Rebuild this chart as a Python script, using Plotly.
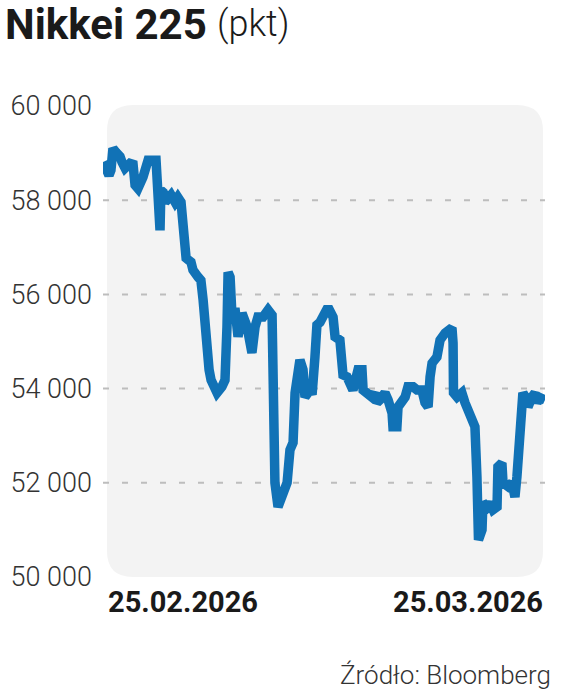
import plotly.graph_objects as go

# Trading-day offset since 25.02.2026 (intraday observations) and index level (pkt)
t_days = [0.00, 0.14, 0.27, 0.36, 0.45, 0.59, 0.77, 0.86, 1.00, 1.22, 1.36, 1.45, 1.58, 1.81, 1.95, 2.04,
          2.40, 2.44, 2.49, 2.58, 2.62, 2.72, 2.81, 2.94, 3.08, 3.26, 3.39, 3.53, 3.62, 3.71, 3.76, 3.98,
          4.07, 4.30, 4.43, 4.53, 4.62, 4.71, 4.80, 4.89, 4.98, 5.16, 5.38, 5.52, 5.61, 5.66, 5.75, 5.84,
          5.97, 6.11, 6.29, 6.52, 6.74, 6.88, 7.01, 7.24, 7.47, 7.65, 7.67, 7.69, 7.78, 7.92, 8.15, 8.33,
          8.46, 8.60, 8.69, 8.78, 8.91, 9.05, 9.14, 9.37, 9.46, 9.59, 9.68, 9.82, 10.05, 10.18, 10.41, 10.50,
          10.72, 10.81, 10.86, 11.04, 11.18, 11.31, 11.54, 11.72, 11.77, 11.99, 12.17, 12.31, 12.40, 12.53,
          12.76, 12.90, 13.08, 13.12, 13.30, 13.35, 13.53, 13.67, 13.80, 14.03, 14.21, 14.43, 14.57, 14.71,
          14.80, 14.89, 15.11, 15.25, 15.48, 15.79, 15.84, 15.86, 16.02, 16.24, 16.38, 16.52, 16.70, 16.83,
          16.92, 16.97, 16.99, 17.15, 17.19, 17.38, 17.51, 17.65, 17.83, 17.87, 18.05, 18.10, 18.33, 18.51,
          18.64, 18.73, 18.87, 18.96, 19.00, 19.19, 19.23, 19.41, 19.55, 19.64, 19.77, 20.00]

nikkei = [58810, 58640, 58530, 58640, 59100, 59020, 58930, 58810, 58680, 58780, 58760, 58320, 58250, 58490, 58780, 58850,
          58850, 58420, 57360, 57360, 58210, 58170, 57960, 58060, 58110, 57960, 58060, 57960, 57640, 57150, 56770, 56690,
          56520, 56370, 56300, 55880, 55240, 54820, 54400, 54180, 54040, 53910, 54040, 54180, 55310, 56470, 56370, 55520,
          55710, 55100, 55600, 55310, 54760, 55310, 55520, 55520, 55670, 55560, 54460, 52700, 52000, 51490, 51790, 52000,
          52700, 52850, 53910, 54460, 54610, 54400, 53820, 53970, 53870, 54670, 55350, 55410, 55600, 55730, 55520, 55100,
          55030, 54540, 54290, 54250, 54120, 53970, 54400, 54400, 53970, 53910, 53820, 53910, 53700, 53760,
          53910, 53760, 53480, 53190, 53190, 53610, 53720, 53820, 54040, 54040, 53970, 53970, 53700, 53610,
          54250, 54540, 54670, 55030, 55180, 55290, 54970, 53910, 53820, 53910, 53700, 53550, 53340, 53190,
          52130, 51430, 50790, 51000, 51580, 51490, 51580, 51430, 51490, 52340, 52420, 52000, 51920, 52000,
          51700, 52130, 52980, 53760, 53910, 53760, 53610, 53820, 53910, 53700, 53810, 53760]

y_ticks = [50000, 52000, 54000, 56000, 58000, 60000]
y_ticktext = ["50 000", "52 000", "54 000", "56 000", "58 000", "60 000"]
x_labels = ["25.02.2026", "25.03.2026"]

LINE_COLOR = "#1172B6"
FONT = "Roboto, sans-serif"

fig = go.Figure()
fig.add_trace(go.Scatter(x=t_days, y=nikkei, mode="lines",
                         line=dict(color=LINE_COLOR, width=9.5), hoverinfo="skip"))

W, H = 564, 694
L, R, T, B = 103, 19, 106, 117
pw, ph = W - L - R, H - T - B

# rounded grey panel in paper coords
x0, x1 = (107 - L) / pw, (543 - L) / pw
y0, y1 = 0.0, (H - B - 105) / ph
rx, ry = 26 / pw, 26 / ph
path = (f"M {x0+rx},{y1} L {x1-rx},{y1} Q {x1},{y1} {x1},{y1-ry} L {x1},{y0+ry} "
        f"Q {x1},{y0} {x1-rx},{y0} L {x0+rx},{y0} Q {x0},{y0} {x0},{y0+ry} "
        f"L {x0},{y1-ry} Q {x0},{y1} {x0+rx},{y1} Z")
shapes = [dict(type="path", path=path, xref="paper", yref="paper",
               fillcolor="#F3F3F3", line=dict(width=0), layer="below")]
for v in y_ticks[1:-1]:
    shapes.append(dict(type="line", xref="paper", yref="y", x0=0, x1=1.0, y0=v, y1=v,
                       line=dict(color="#BDBDBD", width=2, dash="6px,13px"), layer="below"))

annotations = [
    dict(text=x_labels[0], xref="paper", yref="paper", x=(106 - L) / pw, y=0, xanchor="left",
         yanchor="middle", yshift=-25, showarrow=False,
         font=dict(family=FONT, size=29, color="#1a1a1a", weight="bold")),
    dict(text=x_labels[1], xref="paper", yref="paper", x=(545 - L) / pw, y=0, xanchor="right",
         yanchor="middle", yshift=-25, showarrow=False,
         font=dict(family=FONT, size=29, color="#1a1a1a", weight="bold")),
    dict(text="Źródło: Bloomberg", xref="paper", yref="paper", x=(553 - L) / pw, y=-(675 - (H - B)) / ph,
         xanchor="right", yanchor="middle", showarrow=False,
         font=dict(family=FONT, size=26, color="#333333", weight=300)),
    dict(text="Nikkei 225", xref="paper", yref="paper", x=-(L - 3) / pw, y=1 + (T - 24) / ph,
         xanchor="left", yanchor="middle", showarrow=False,
         font=dict(family=FONT, size=42, color="#1a1a1a", weight="bold")),
    dict(text="(pkt)", xref="paper", yref="paper", x=(215 - L) / pw, y=1 + (T - 24) / ph,
         xanchor="left", yanchor="middle", showarrow=False,
         font=dict(family=FONT, size=36, color="#1a1a1a", weight=300)),
]

fig.update_layout(
    width=W, height=H,
    margin=dict(l=L, r=R, t=T, b=B),
    paper_bgcolor="white", plot_bgcolor="rgba(0,0,0,0)",
    showlegend=False,
    shapes=shapes, annotations=annotations,
    xaxis=dict(range=[0, 20], showgrid=False, zeroline=False, showticklabels=False,
               showline=False, fixedrange=True),
    yaxis=dict(range=[50000, 60000], tickvals=y_ticks, ticktext=y_ticktext,
               showgrid=False, zeroline=False, showline=False, ticks="",
               ticklabelstandoff=10, automargin=False,
               tickfont=dict(family=FONT, size=27, color="#333333", weight=300), fixedrange=True),
)

fig.write_html("out.html", config={"displayModeBar": False},
               post_script="document.body.style.margin='0px';")
